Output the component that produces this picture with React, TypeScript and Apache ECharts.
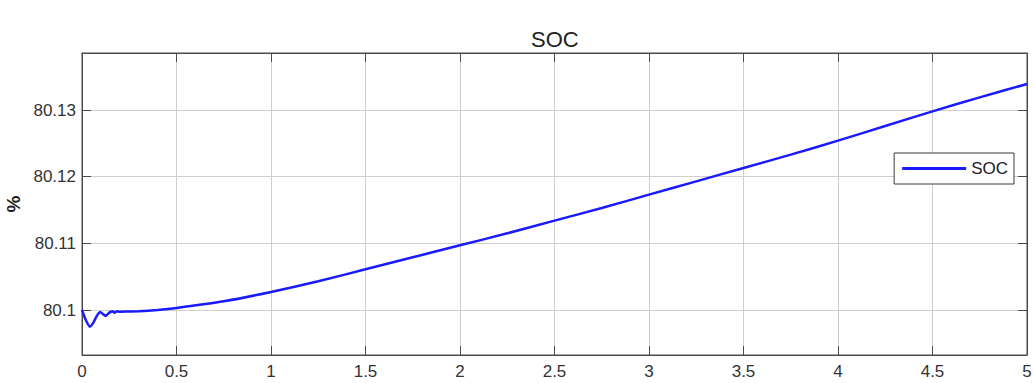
import React, { useEffect, useRef } from "react";
import * as echarts from "echarts";

const timeValues = [
  0, 0.02, 0.042, 0.06, 0.08, 0.097, 0.11, 0.125, 0.14, 0.15, 0.162, 0.172, 0.185, 0.2,
  0.25, 0.3, 0.4, 0.5, 0.75, 1, 1.25, 1.5, 1.75, 2, 2.25, 2.5, 2.75, 3, 3.25, 3.5, 3.75,
  4, 4.25, 4.5, 4.75, 5,
];
const socValues = [
  80.1, 80.0985, 80.0975, 80.0981, 80.0992, 80.0997, 80.0994, 80.0991, 80.0995, 80.0997,
  80.0998, 80.0996, 80.0998, 80.09975, 80.09978, 80.0998, 80.1, 80.1003, 80.1013, 80.1027,
  80.1043, 80.1061, 80.1079, 80.1097, 80.1115, 80.1134, 80.1153, 80.1173, 80.1193, 80.1213,
  80.1233, 80.1254, 80.1276, 80.1298, 80.1319, 80.1339,
];
const yTickValues = [80.1, 80.11, 80.12, 80.13];
const xTickLabels = ["0", "0.5", "1", "1.5", "2", "2.5", "3", "3.5", "4", "4.5", "5"];

const FONT = "'Liberation Sans', Arial, sans-serif";
const AXIS_COLOR = "#4a4a4a";
const GRID_COLOR = "#cfcfcf";
const LABEL_COLOR = "#333333";

export default function App() {
  const ref = useRef<HTMLDivElement>(null);
  useEffect(() => {
    if (!ref.current) return;
    const chart = echarts.init(ref.current, null, { renderer: "svg" });
    const data = timeValues.map((t, i) => [t, socValues[i]]);
    const yMin = 80.09325;
    const yMax = 80.13855;
    chart.setOption({
      animation: false,
      backgroundColor: "#ffffff",
      title: {
        text: "SOC",
        left: 526,
        top: 23,
        textStyle: { fontFamily: FONT, fontSize: 22, fontWeight: "normal", color: "#222" },
      },
      legend: {
        right: 19,
        top: 153,
        orient: "vertical",
        backgroundColor: "#fff",
        borderColor: "#3a3a3a",
        borderWidth: 1,
        borderRadius: 0,
        padding: [7, 6, 7, 8],
        itemWidth: 64,
        itemHeight: 3,
        itemGap: 5,
        textStyle: { fontFamily: FONT, fontSize: 17, color: "#222" },
        data: [{ name: "SOC", icon: "rect" }],
      },
      grid: {
        left: 82,
        right: 6,
        top: 53,
        bottom: 28,
        outerBoundsMode: "none",
        containLabel: false,
        show: true,
        borderColor: AXIS_COLOR,
        borderWidth: 1,
        backgroundColor: "transparent",
      },
      xAxis: [
        {
          type: "value",
          min: 0,
          max: 5,
          interval: 0.5,
          axisLine: { show: true, onZero: false, lineStyle: { color: AXIS_COLOR, width: 1 } },
          axisTick: { show: true, inside: true, length: 9, lineStyle: { color: AXIS_COLOR } },
          splitLine: { show: true, lineStyle: { color: GRID_COLOR, width: 1 } },
          axisLabel: {
            fontFamily: FONT,
            fontSize: 17,
            color: LABEL_COLOR,
            margin: 8,
            formatter: (v: number) => xTickLabels[Math.round(v * 2)] ?? "",
          },
        },
        {
          type: "value",
          position: "top",
          min: 0,
          max: 5,
          interval: 0.5,
          axisLine: { show: true, onZero: false, lineStyle: { color: AXIS_COLOR, width: 1 } },
          axisTick: { show: true, inside: true, length: 9, lineStyle: { color: AXIS_COLOR } },
          splitLine: { show: false },
          axisLabel: { show: false },
        },
      ],
      yAxis: [
        {
          type: "value",
          min: yMin,
          max: yMax,
          name: "%",
          nameLocation: "middle",
          nameRotate: 90,
          nameGap: 58,
          nameTextStyle: { fontFamily: FONT, fontSize: 19, color: "#222", fontWeight: "bold" },
          axisLine: { show: true, onZero: false, lineStyle: { color: AXIS_COLOR, width: 1 } },
          axisTick: {
            show: true,
            inside: true,
            length: 9,
            customValues: yTickValues,
            lineStyle: { color: AXIS_COLOR },
          },
          splitLine: { show: true, lineStyle: { color: GRID_COLOR, width: 1 } },
          axisLabel: {
            customValues: yTickValues,
            fontFamily: FONT,
            fontSize: 17,
            color: LABEL_COLOR,
            margin: 6,
            formatter: (v: number) => {
              const s = v.toFixed(2);
              return s.endsWith("0") ? v.toFixed(1) : s;
            },
          },
        },
        {
          type: "value",
          position: "right",
          min: yMin,
          max: yMax,
          axisLine: { show: true, onZero: false, lineStyle: { color: AXIS_COLOR, width: 1 } },
          axisTick: {
            show: true,
            inside: true,
            length: 9,
            customValues: yTickValues,
            lineStyle: { color: AXIS_COLOR },
          },
          splitLine: { show: false },
          axisLabel: { show: false },
        },
      ],
      series: [
        {
          name: "SOC",
          type: "line",
          data,
          symbol: "none",
          smooth: 0.15,
          lineStyle: { color: "#1a1aff", width: 2.5 },
          itemStyle: { color: "#1a1aff" },
        },
      ],
    });
    return () => chart.dispose();
  }, []);
  return (
    <div
      ref={ref}
      style={{ position: "fixed", left: 0, top: 0, width: 1033, height: 383, background: "#fff" }}
    />
  );
}
